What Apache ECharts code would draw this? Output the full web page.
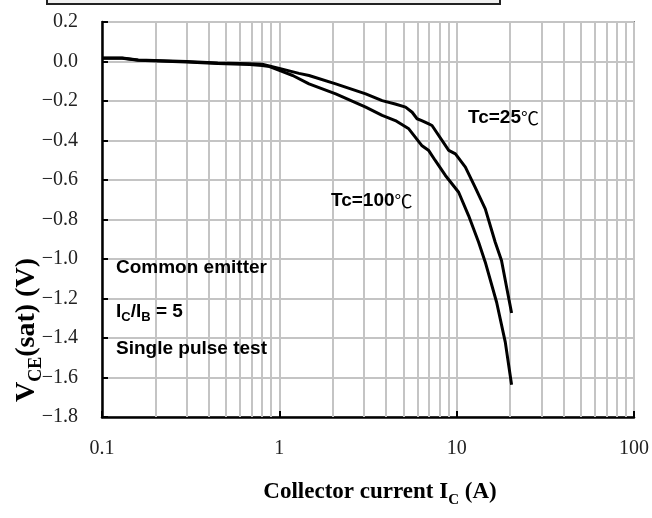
<!DOCTYPE html>
<html><head><meta charset="utf-8">
<script src="https://cdn.jsdelivr.net/npm/echarts@6/dist/echarts.min.js"></script>
<style>html,body{margin:0;padding:0;background:#fff}#c{width:652px;height:518px}</style>
</head><body><div id="c"></div>
<script>
// Collector current (A) and VCE(sat) (V)
const ic25 = [0.1, 0.13, 0.16, 0.3, 0.45, 0.68, 0.8, 1.0, 1.29, 1.47, 2.08, 3.07, 3.8, 4.5, 5.15, 5.61, 5.98, 6.35, 6.96, 7.26, 9.02, 9.84, 11.2, 12.7, 14.5, 16.5, 17.9, 19.2, 20.4];
const vce25 = [0.018, 0.018, 0.008, 0.0, -0.007, -0.012, -0.014, -0.035, -0.06, -0.071, -0.113, -0.164, -0.198, -0.215, -0.231, -0.257, -0.29, -0.299, -0.316, -0.324, -0.45, -0.468, -0.535, -0.636, -0.746, -0.915, -1.008, -1.151, -1.273];
const ic100 = [0.1, 0.13, 0.16, 0.3, 0.45, 0.68, 0.8, 0.88, 1.0, 1.19, 1.47, 2.08, 3.07, 3.8, 4.51, 5.37, 6.35, 6.96, 7.57, 8.64, 10.26, 11.67, 13.3, 14.5, 16.8, 18.8, 20.4];
const vce100 = [0.016, 0.016, 0.006, -0.002, -0.01, -0.015, -0.02, -0.026, -0.045, -0.071, -0.113, -0.164, -0.231, -0.273, -0.299, -0.341, -0.425, -0.451, -0.501, -0.577, -0.662, -0.78, -0.915, -1.016, -1.219, -1.421, -1.637];
const xTicks = [0.1, 1, 10, 100];
const minorGrid = [0.2,0.3,0.4,0.5,0.6,0.7,0.8,0.9,2,3,4,5,6,7,8,9,20,30,40,50,60,70,80,90];
const yMin = -1.8, yMax = 0.2, yStep = 0.2;

const serif = '"Liberation Serif", "Times New Roman", serif';
const sans = '"Liberation Sans", Arial, sans-serif';
const cjk = '"Noto Sans CJK JP", sans-serif';

const chart = echarts.init(document.getElementById('c'), null, {renderer: 'canvas'});
const zip = (a, b) => a.map((v, i) => [v, b[i]]);
const annRich = {
  a: {font: 'bold 19px ' + sans, fill: '#000'},
  c: {font: '18px ' + cjk, fill: '#000'}
};

chart.setOption({
  animation: false,
  backgroundColor: '#fff',
  grid: {left: 102, right: 16, top: 22, bottom: 101, show: true, borderColor: '#808080', borderWidth: 2},
  xAxis: {
    type: 'log', logBase: 10, min: 0.1, max: 100,
    axisLine: {show: true, onZero: false, lineStyle: {color: '#000', width: 2.5}},
    axisTick: {show: true, inside: true, length: 6, lineStyle: {color: '#000', width: 2}},
    axisLabel: {margin: 22, fontFamily: serif, fontSize: 20, color: '#222',
      formatter: v => { const t = xTicks.find(x => Math.abs(x - v) / x < 1e-6); return t === undefined ? '' : String(t); }},
    splitLine: {show: true, lineStyle: {color: '#c4c4c4', width: 2}}
  },
  yAxis: {
    type: 'value', min: yMin, max: yMax, interval: yStep,
    axisLine: {show: true, onZero: false, lineStyle: {color: '#000', width: 2.5}},
    axisTick: {show: true, inside: true, length: 6, lineStyle: {color: '#000', width: 2}},
    axisLabel: {margin: 24, fontFamily: serif, fontSize: 20, color: '#222',
      formatter: v => (v < 0 ? '\u2212' : '') + Math.abs(v).toFixed(1)},
    splitLine: {show: true, lineStyle: {color: '#c4c4c4', width: 2}}
  },
  series: [
    {type: 'line', name: 'grid', data: [], silent: true, z: 1,
      markLine: {silent: true, symbol: 'none', label: {show: false}, z: 1,
        lineStyle: {color: '#c4c4c4', width: 2, type: 'solid'},
        data: minorGrid.map(v => ({xAxis: v}))}},
    {type: 'line', name: 'Tc=25℃', data: zip(ic25, vce25), showSymbol: false, smooth: false,
      lineStyle: {color: '#000', width: 3}, z: 5},
    {type: 'line', name: 'Tc=100℃', data: zip(ic100, vce100), showSymbol: false, smooth: false,
      lineStyle: {color: '#000', width: 3}, z: 5}
  ],
  graphic: [
    {type: 'rect', z: 100, shape: {x: 47, y: -12, width: 453, height: 16}, style: {fill: '#f0f0f0', stroke: '#222', lineWidth: 2}},
    {type: 'text', z: 100, x: 468, y: 118, style: {text: '{a|Tc=25}{c|℃}', verticalAlign: 'middle', rich: annRich}},
    {type: 'text', z: 100, x: 331, y: 201, style: {text: '{a|Tc=100}{c|℃}', verticalAlign: 'middle', rich: annRich}},
    {type: 'text', z: 100, x: 116, y: 268, style: {text: 'Common emitter', font: 'bold 19px ' + sans, fill: '#000', verticalAlign: 'middle'}},
    {type: 'text', z: 100, x: 116, y: 310, style: {text: '{a|I}{s|C}{a|/I}{s|B}{a| = 5}', verticalAlign: 'middle',
      rich: {a: {font: 'bold 19px ' + sans, fill: '#000', lineHeight: 22, verticalAlign: 'bottom'},
             s: {font: 'bold 13px ' + sans, fill: '#000', lineHeight: 15, verticalAlign: 'bottom', padding: [0,0,-3,0]}}}},
    {type: 'text', z: 100, x: 116, y: 349, style: {text: 'Single pulse test', font: 'bold 19px ' + sans, fill: '#000', verticalAlign: 'middle'}},
    {type: 'text', z: 100, x: 380, y: 491, style: {text: '{a|Collector current I}{s|C}{a| (A)}', align: 'center', verticalAlign: 'middle',
      rich: {a: {font: 'bold 23px ' + serif, fill: '#000', lineHeight: 26, verticalAlign: 'bottom'},
             s: {font: 'bold 15px ' + serif, fill: '#000', lineHeight: 18, verticalAlign: 'bottom', padding: [0,0,-4,0]}}}},
    {type: 'text', z: 100, x: 26, y: 330, rotation: Math.PI / 2, style: {text: '{a|V}{s|CE}{a|(sat) (V)}', align: 'center', verticalAlign: 'middle',
      rich: {a: {font: 'bold 28px ' + serif, fill: '#000', lineHeight: 30, verticalAlign: 'bottom'},
             s: {font: 'bold 18px ' + serif, fill: '#000', lineHeight: 20, verticalAlign: 'bottom', padding: [0,0,-4,0]}}}}
  ]
});
</script>
</body></html>
